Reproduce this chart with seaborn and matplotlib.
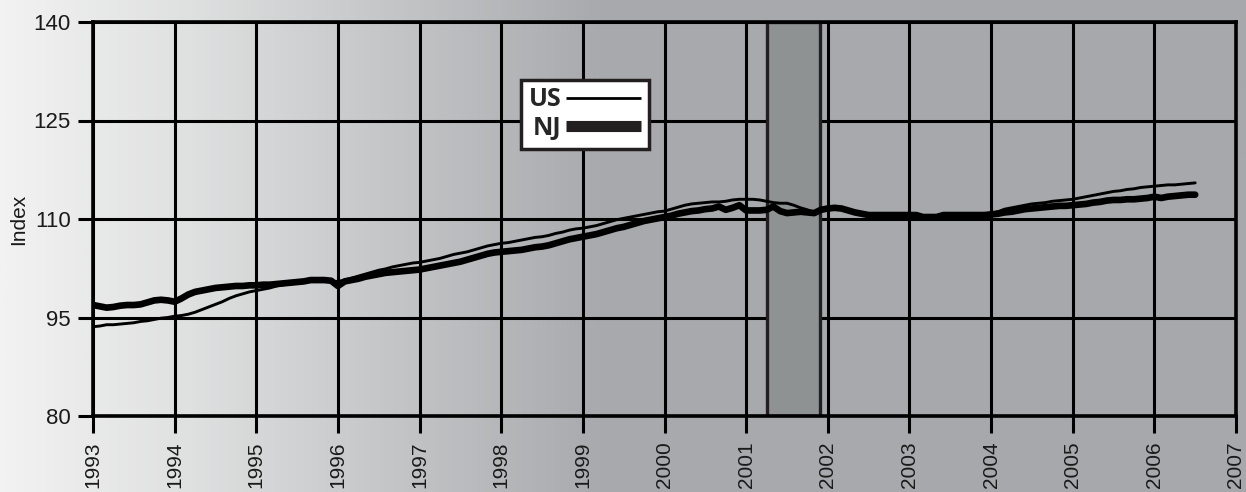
import numpy as np
import pandas as pd
import matplotlib
matplotlib.use("Agg")
import matplotlib.pyplot as plt
from matplotlib.colors import LinearSegmentedColormap
from matplotlib.lines import Line2D
import seaborn as sns

# ---------------- data (monthly index values, Jan 1993 - Jul 2006) ----------------
start_year = 1993
us_1993 = [93.6, 93.7, 93.9, 93.9, 94.0, 94.1, 94.2, 94.4, 94.5, 94.7, 94.9, 95.0]
us_1994 = [95.2, 95.3, 95.5, 95.8, 96.2, 96.6, 97.0, 97.4, 97.9, 98.3, 98.6, 98.9]
us_1995 = [99.1, 99.3, 99.5, 99.8, 100.0, 100.1, 100.3, 100.5, 100.7, 100.7, 100.6, 100.5]
us_1996 = [100.5, 100.7, 101.0, 101.3, 101.6, 101.9, 102.2, 102.4, 102.7, 102.9, 103.1, 103.3]
us_1997 = [103.4, 103.6, 103.8, 104.0, 104.3, 104.6, 104.8, 105.0, 105.3, 105.6, 105.9, 106.1]
us_1998 = [106.3, 106.4, 106.6, 106.8, 107.0, 107.2, 107.3, 107.5, 107.8, 108.0, 108.3, 108.5]
us_1999 = [108.6, 108.8, 109.0, 109.3, 109.6, 109.9, 110.1, 110.3, 110.5, 110.7, 110.9, 111.1]
us_2000 = [111.2, 111.5, 111.8, 112.1, 112.3, 112.4, 112.5, 112.6, 112.6, 112.7, 112.9, 113.0]
us_2001 = [113.0, 113.0, 112.9, 112.7, 112.5, 112.4, 112.4, 112.1, 111.7, 111.4, 111.0, 111.2]
us_2002 = [111.5, 111.6, 111.5, 111.3, 111.0, 110.8, 110.7, 110.7, 110.7, 110.7, 110.6, 110.7]
us_2003 = [110.7, 110.6, 110.4, 110.4, 110.5, 110.7, 110.7, 110.8, 110.8, 110.8, 110.8, 110.8]
us_2004 = [110.9, 111.1, 111.5, 111.7, 111.9, 112.1, 112.3, 112.4, 112.5, 112.7, 112.8, 112.9]
us_2005 = [113.0, 113.2, 113.4, 113.6, 113.8, 114.0, 114.2, 114.3, 114.5, 114.6, 114.8, 114.9]
us_2006 = [115.0, 115.1, 115.2, 115.2, 115.3, 115.4, 115.5]

nj_1993 = [96.9, 96.7, 96.5, 96.6, 96.8, 96.9, 96.9, 97.0, 97.3, 97.6, 97.7, 97.6]
nj_1994 = [97.4, 97.9, 98.5, 98.9, 99.1, 99.3, 99.5, 99.6, 99.7, 99.8, 99.8, 99.9]
nj_1995 = [99.9, 100.0, 100.0, 100.1, 100.2, 100.3, 100.4, 100.5, 100.7, 100.7, 100.7, 100.6]
nj_1996 = [99.8, 100.5, 100.7, 100.9, 101.2, 101.4, 101.6, 101.8, 101.9, 102.0, 102.1, 102.2]
nj_1997 = [102.3, 102.5, 102.7, 102.9, 103.1, 103.3, 103.5, 103.8, 104.1, 104.4, 104.7, 104.9]
nj_1998 = [105.0, 105.1, 105.2, 105.3, 105.5, 105.7, 105.8, 106.0, 106.3, 106.6, 106.9, 107.1]
nj_1999 = [107.3, 107.5, 107.7, 108.0, 108.3, 108.6, 108.8, 109.1, 109.4, 109.7, 109.9, 110.1]
nj_2000 = [110.3, 110.5, 110.8, 111.0, 111.2, 111.3, 111.5, 111.6, 111.9, 111.4, 111.7, 112.1]
nj_2001 = [111.3, 111.3, 111.3, 111.4, 111.9, 111.2, 110.9, 111.0, 111.1, 111.0, 110.9, 111.4]
nj_2002 = [111.6, 111.7, 111.6, 111.3, 111.0, 110.8, 110.6, 110.6, 110.6, 110.6, 110.6, 110.6]
nj_2003 = [110.6, 110.6, 110.3, 110.3, 110.3, 110.6, 110.6, 110.6, 110.6, 110.6, 110.6, 110.6]
nj_2004 = [110.7, 110.8, 111.0, 111.1, 111.3, 111.5, 111.6, 111.7, 111.8, 111.9, 112.0, 112.0]
nj_2005 = [112.1, 112.2, 112.3, 112.5, 112.6, 112.8, 112.9, 112.9, 113.0, 113.0, 113.1, 113.2]
nj_2006 = [113.4, 113.2, 113.4, 113.5, 113.6, 113.7, 113.7]

us_values = (us_1993 + us_1994 + us_1995 + us_1996 + us_1997 + us_1998 + us_1999 +
             us_2000 + us_2001 + us_2002 + us_2003 + us_2004 + us_2005 + us_2006)
nj_values = (nj_1993 + nj_1994 + nj_1995 + nj_1996 + nj_1997 + nj_1998 + nj_1999 +
             nj_2000 + nj_2001 + nj_2002 + nj_2003 + nj_2004 + nj_2005 + nj_2006)

series_names = ["US", "NJ"]
recession_start = 2001.25
recession_end = 2001.9
year_ticks = list(range(1993, 2008))
y_ticks = [80, 95, 110, 125, 140]
y_label = "Index"

# ---------------- table ----------------
n = len(us_values)
t = start_year + np.arange(n) / 12.0
df = pd.DataFrame({
    "t": np.concatenate([t, t]),
    "value": us_values + nj_values,
    "series": ["US"] * n + ["NJ"] * n,
})

# ---------------- figure ----------------
sns.set_style("ticks")
plt.rcParams["font.family"] = ["Liberation Sans", "DejaVu Sans"]

W, H = 1246, 492
fig = plt.figure(figsize=(W / 100, H / 100), dpi=100)

# gradient background
bg = fig.add_axes([0, 0, 1, 1], zorder=0)
cmap = LinearSegmentedColormap.from_list(
    "bg", [(0.0, "#f2f2f2"), (0.15, "#dfe0e0"), (0.34, "#c0c1c3"),
           (0.48, "#a9aaad"), (1.0, "#a7a8ab")])
bg.imshow(np.linspace(0, 1, 600).reshape(1, -1), aspect="auto", cmap=cmap,
          extent=[0, 1, 0, 1])
bg.set_axis_off()

ax = fig.add_axes([93 / W, 76 / H, 1143 / W, 394 / H], zorder=1)
ax.set_facecolor("none")

# recession shading
ax.axvspan(recession_start, recession_end, facecolor="#8e9293",
           edgecolor="#231f20", linewidth=2.4, zorder=1.5)

sns.lineplot(data=df[df.series == "NJ"], x="t", y="value", color="black",
             linewidth=4.8, ax=ax, legend=False, zorder=3)
sns.lineplot(data=df[df.series == "US"], x="t", y="value", color="black",
             linewidth=2.1, ax=ax, legend=False, zorder=4)

ax.set_xlim(year_ticks[0], year_ticks[-1])
ax.set_ylim(y_ticks[0], y_ticks[-1])
ax.set_xticks(year_ticks)
ax.set_xticklabels([str(y) for y in year_ticks], rotation=90)
ax.set_yticks(y_ticks)
ax.set_yticklabels([str(v) for v in y_ticks])

ax.grid(True, color="black", linewidth=2.2)
ax.set_axisbelow(True)
for s in ax.spines.values():
    s.set_visible(True)
    s.set_color("black")
    s.set_linewidth(2.6)

ax.tick_params(axis="x", direction="out", length=12, width=2.2, color="black",
               pad=6, labelsize=15, labelcolor="#1a1a1a")
ax.tick_params(axis="y", direction="out", length=11, width=2.2, color="black",
               pad=5, labelsize=16, labelcolor="#1a1a1a")
ax.set_xlabel("")
ax.set_ylabel(y_label, fontsize=15, color="#1a1a1a", labelpad=4)

handles = [Line2D([], [], color="black", lw=2.0, solid_capstyle="butt"),
           Line2D([], [], color="#231f20", lw=8, solid_capstyle="butt")]
leg = ax.legend(handles, series_names, loc="upper left",
                bbox_to_anchor=(0.3745, 0.853), borderaxespad=0,
                frameon=True, fancybox=False, framealpha=1,
                edgecolor="#231f20", facecolor="white", markerfirst=False,
                prop={"family": ["Open Sans", "DejaVu Sans"], "weight": "bold", "size": 18},
                handlelength=3.0, handletextpad=0.2, labelspacing=0.15,
                borderpad=0.3)
leg.get_frame().set_linewidth(2.5)
leg.set_zorder(10)

fig.savefig("out.png", dpi=100)
